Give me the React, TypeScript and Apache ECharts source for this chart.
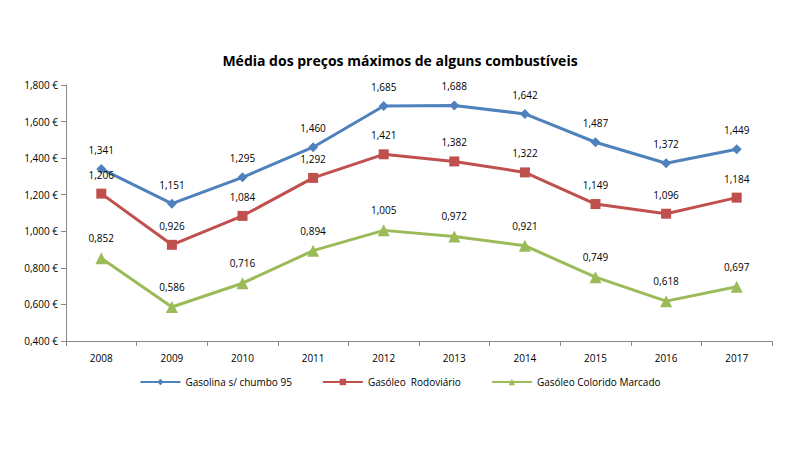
import React, { useEffect, useRef } from "react";
import * as echarts from "echarts";

const years = ["2008", "2009", "2010", "2011", "2012", "2013", "2014", "2015", "2016", "2017"];
const gasolina = [1.341, 1.151, 1.295, 1.46, 1.685, 1.688, 1.642, 1.487, 1.372, 1.449];
const gasoleoRod = [1.206, 0.926, 1.084, 1.292, 1.421, 1.382, 1.322, 1.149, 1.096, 1.184];
const gasoleoCol = [0.852, 0.586, 0.716, 0.894, 1.005, 0.972, 0.921, 0.749, 0.618, 0.697];
const seriesNames = ["Gasolina s/ chumbo 95", "Gasóleo  Rodoviário", "Gasóleo Colorido Marcado"];
const colors = ["#4F81BD", "#C0504D", "#9BBB59"];
const titleText = "Média dos preços máximos de alguns combustíveis";

const fmt3 = (v: number) => v.toFixed(3).replace(".", ",");
const font = "'Open Sans', 'DejaVu Sans', sans-serif";

export default function App() {
  const ref = useRef<HTMLDivElement>(null);
  useEffect(() => {
    if (!ref.current) return;
    const chart = echarts.init(ref.current, undefined, { renderer: "svg" });
    const mk = (name: string, data: number[], color: string, symbol: string, size: number) => ({
      name,
      type: "line",
      data,
      symbol,
      symbolSize: size,
      itemStyle: { color },
      lineStyle: { color, width: 3 },
      label: {
        show: true,
        position: "top",
        distance: 9,
        formatter: (p: any) => fmt3(p.value),
        color: "#000",
        fontSize: 10,
        fontFamily: font,
      },
    });
    chart.setOption({
      animation: false,
      backgroundColor: "#fff",
      title: {
        text: titleText,
        left: "center",
        top: 40,
        textStyle: { fontSize: 14, fontWeight: "bold", color: "#000", fontFamily: font },
      },
      legend: {
        bottom: 50,
        left: "center",
        itemWidth: 40,
        itemHeight: 8,
        itemGap: 30,
        textStyle: { fontSize: 10, color: "#000", fontFamily: font },
        data: seriesNames,
      },
      grid: { left: 58, right: 20, top: 77, bottom: 101, containLabel: false },
      xAxis: {
        type: "category",
        data: years,
        boundaryGap: true,
        axisLine: { lineStyle: { color: "#888" } },
        axisTick: { show: true, length: 5, lineStyle: { color: "#888" } },
        axisLabel: { color: "#000", fontSize: 10, margin: 12, fontFamily: font },
      },
      yAxis: {
        type: "value",
        min: 0.4,
        max: 1.8,
        interval: 0.2,
        axisLine: { show: true, lineStyle: { color: "#888" } },
        axisTick: { show: true, length: 5, lineStyle: { color: "#888" } },
        splitLine: { show: false },
        axisLabel: {
          color: "#000",
          fontSize: 10,
          margin: 8,
          fontFamily: font,
          formatter: (v: number) => fmt3(v) + " €",
        },
      },
      series: [
        mk(seriesNames[0], gasolina, colors[0], "diamond", 10),
        mk(seriesNames[1], gasoleoRod, colors[1], "rect", 10),
        mk(seriesNames[2], gasoleoCol, colors[2], "triangle", 12),
      ],
    });
    return () => chart.dispose();
  }, []);
  return <div ref={ref} style={{ width: 784, height: 434 }} />;
}
